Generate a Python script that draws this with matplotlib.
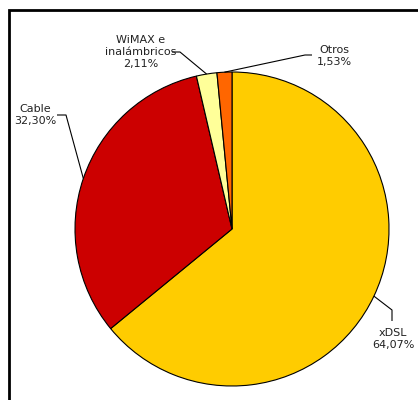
import numpy as np
import matplotlib
matplotlib.use("Agg")
import matplotlib.pyplot as plt

labels = ["xDSL", "Cable", "WiMAX e\ninalámbricos", "Otros"]
values = [64.07, 32.30, 2.11, 1.53]
pct_text = ["64,07%", "32,30%", "2,11%", "1,53%"]
colors = ["#FFCC00", "#CC0000", "#FFFF99", "#FF6600"]

W, H = 418, 400
fig = plt.figure(figsize=(W / 100, H / 100), dpi=100)
ax = fig.add_axes([0, 0, 1, 1])

cx, cy, r = 232, H - 229, 157
wedges, _ = ax.pie(values, colors=colors, startangle=90, counterclock=False,
                   center=(cx, cy), radius=r, frame=True,
                   wedgeprops=dict(edgecolor="black", linewidth=0.8))
ax.set_xlim(0, W)
ax.set_ylim(0, H)
ax.set_aspect("auto")
ax.axis("off")

# leader lines: elbow, end, text anchor (pixel coords from top)
leaders = [
    ((392, 310), (392, 321), (393, 339)),
    ((66, 115), (57, 115), (35, 115)),
    ((180, 52), (172, 52), (141, 52)),
    ((305, 55), (312, 55), (334, 56)),
]
for w, lab, pt, (elb, end, tpos) in zip(wedges, labels, pct_text, leaders):
    ang = np.deg2rad((w.theta1 + w.theta2) / 2)
    sx, sy = cx + r * np.cos(ang), cy + r * np.sin(ang)
    ax.plot([sx, elb[0], end[0]], [sy, H - elb[1], H - end[1]],
            color="black", lw=0.8, solid_capstyle="butt")
    ax.text(tpos[0], H - tpos[1], lab + "\n" + pt, ha="center", va="center",
            fontsize=8, color="#222222", family="DejaVu Sans",
            linespacing=1.3)

# border (only left and top visible)
ax.plot([9, 9, W + 5], [-5, H - 10, H - 10], color="black", lw=2,
        solid_joinstyle="miter", clip_on=True)

fig.savefig("out.png", dpi=100)
